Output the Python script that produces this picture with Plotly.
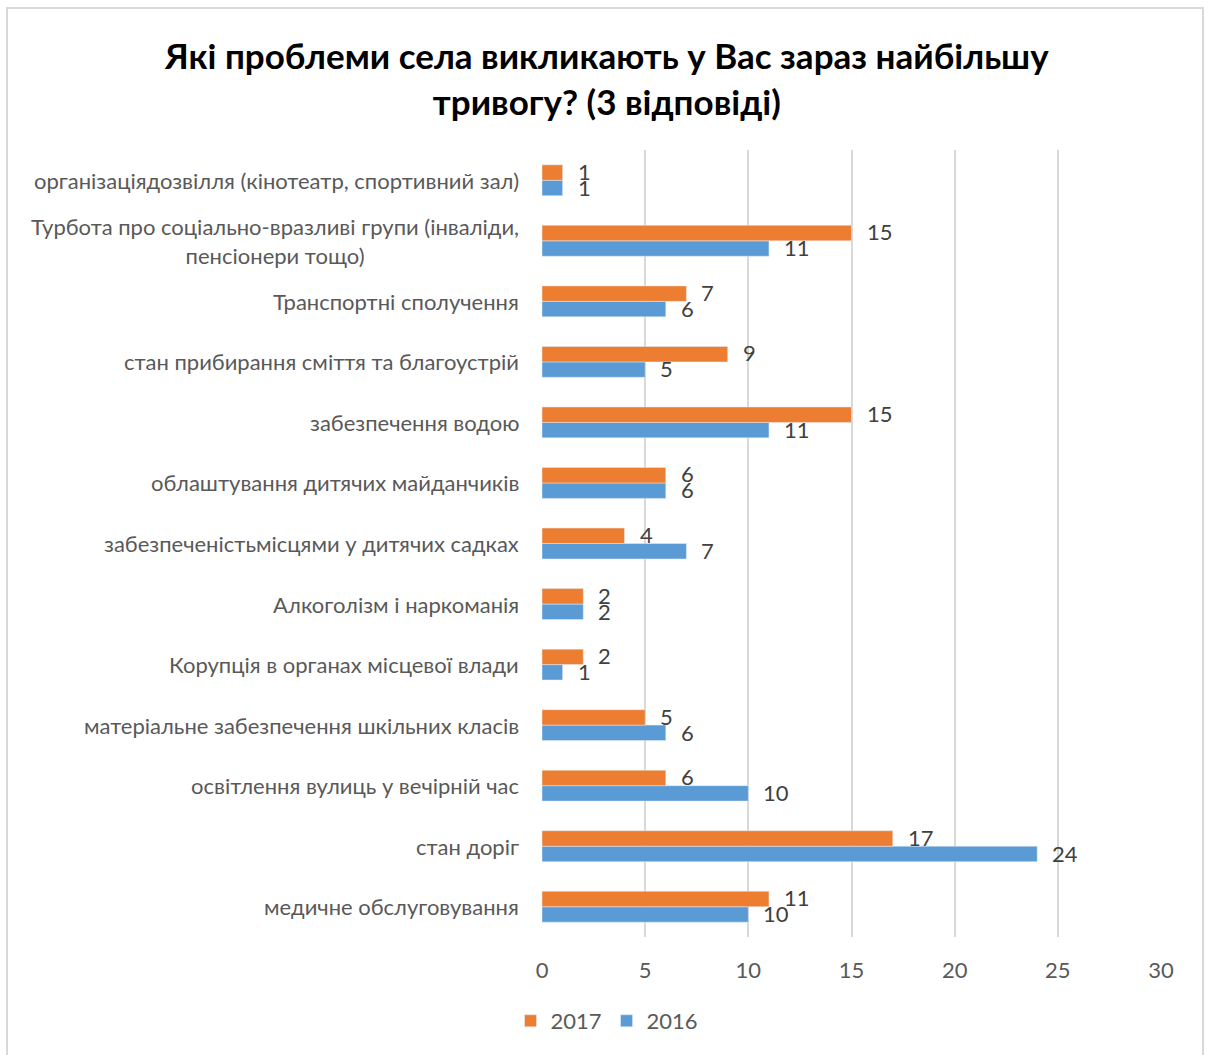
import plotly.graph_objects as go

categories = [
    "медичне обслуговування",
    "стан доріг",
    "освітлення вулиць у вечірній час",
    "матеріальне забезпечення шкільних класів",
    "Корупція в органах місцевої влади",
    "Алкоголізм і наркоманія",
    "забезпеченістьмісцями у дитячих садках",
    "облаштування дитячих майданчиків",
    "забезпечення водою",
    "стан прибирання сміття та благоустрій",
    "Транспортні сполучення",
    "Турбота про соціально-вразливі групи (інваліди,<br>пенсіонери тощо)",
    "організаціядозвілля (кінотеатр, спортивний зал)",
]
values_2017 = [11, 17, 6, 5, 2, 2, 4, 6, 15, 9, 7, 15, 1]
values_2016 = [10, 24, 10, 6, 1, 2, 7, 6, 11, 5, 6, 11, 1]
x_ticks = [0, 5, 10, 15, 20, 25, 30]
title_text = "<b>Які проблеми села викликають у Вас зараз найбільшу<br>тривогу? (3 відповіді)</b>"

ORANGE = "#ED7D31"
BLUE = "#5B9BD5"
FONT = "Lato"
GRAY = "#595959"
FS = 22

PLOT_H = 1055 - 150 - 118
PLOT_W = 1210 - 542 - 49


def py(pixel_y):
    return (1055 - 118 - pixel_y) / PLOT_H


def px(pixel_x):
    return (pixel_x - 542) / PLOT_W


fig = go.Figure()
fig.add_trace(go.Bar(y=categories, x=values_2016, orientation="h", name="2016",
                     marker=dict(color=BLUE)))
fig.add_trace(go.Bar(y=categories, x=values_2017, orientation="h", name="2017",
                     marker=dict(color=ORANGE)))

annotations = []
for cat, v in zip(categories, values_2017):
    annotations.append(dict(x=v, y=cat, xref="x", yref="y", text=str(v), showarrow=False,
                            xanchor="left", xshift=13, yshift=9,
                            font=dict(family=FONT, size=FS, color="#404040")))
for cat, v in zip(categories, values_2016):
    annotations.append(dict(x=v, y=cat, xref="x", yref="y", text=str(v), showarrow=False,
                            xanchor="left", xshift=13, yshift=-7,
                            font=dict(family=FONT, size=FS, color="#404040")))
for cat in categories:
    annotations.append(dict(x=0, y=cat, xref="paper", yref="y", text=cat, showarrow=False,
                            xanchor="right", align="center", xshift=-21,
                            font=dict(family=FONT, size=FS, color=GRAY)))
annotations.append(dict(x=px(606), y=py(78), xref="paper", yref="paper", text=title_text,
                        showarrow=False, xanchor="center", yanchor="middle", align="center",
                        font=dict(family=FONT, size=35, color="#000000")))

fig.update_layout(
    width=1210, height=1055,
    margin=dict(l=542, r=49, t=150, b=118),
    paper_bgcolor="white", plot_bgcolor="white",
    barmode="group", bargap=0.49, bargroupgap=0,
    xaxis=dict(range=[0, 30], tickvals=x_ticks, showgrid=True, gridcolor="#D9D9D9", gridwidth=2,
               zeroline=False, showline=False, ticks="", ticklabelstandoff=18,
               tickfont=dict(family=FONT, size=FS, color=GRAY)),
    yaxis=dict(showticklabels=False, showgrid=False, zeroline=False, showline=False,
               categoryorder="array", categoryarray=categories),
    legend=dict(orientation="h", x=px(607), xanchor="center", y=py(1021), yanchor="middle",
                traceorder="reversed", font=dict(family=FONT, size=FS, color=GRAY),
                itemwidth=30, tracegroupgap=0),
    annotations=annotations,
    showlegend=True,
)
fig.add_shape(type="rect", xref="paper", yref="paper",
              x0=px(7), x1=px(1203), y0=py(1070), y1=py(8),
              line=dict(color="#D9D9D9", width=2), fillcolor="rgba(0,0,0,0)", layer="below")

fig.write_html("out.html")
